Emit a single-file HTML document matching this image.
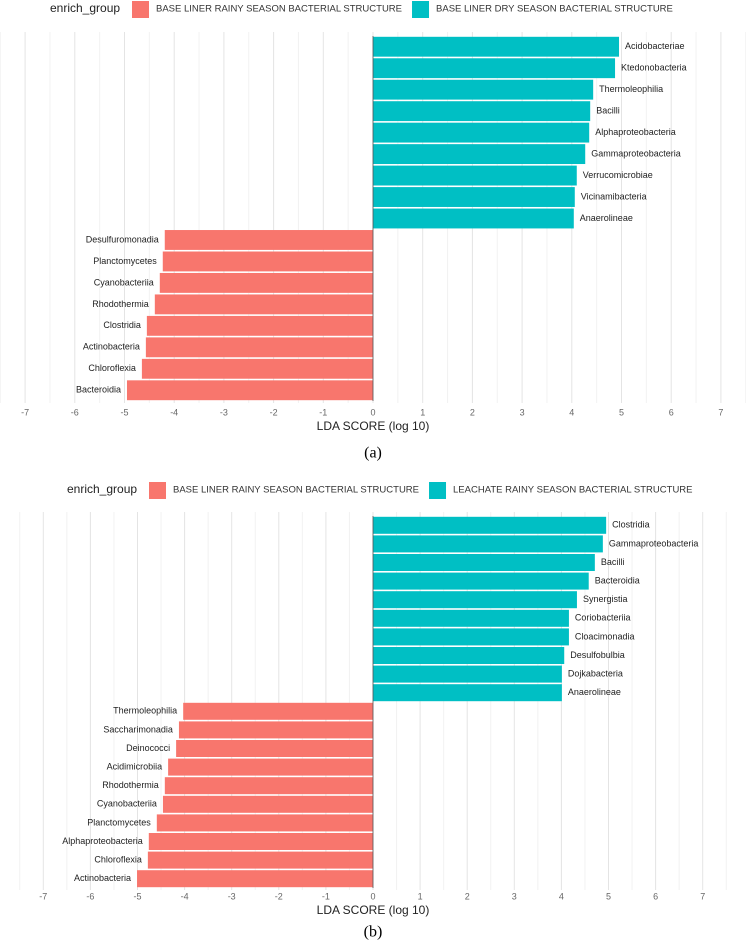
<!DOCTYPE html>
<html><head><meta charset="utf-8"><style>
body{margin:0;background:#fff;}
svg{display:block;font-family:"Liberation Sans",sans-serif;}
</style></head><body>
<svg id="s" width="746" height="945"></svg>
<script>
const catsA=["Acidobacteriae","Ktedonobacteria","Thermoleophilia","Bacilli","Alphaproteobacteria","Gammaproteobacteria","Verrucomicrobiae","Vicinamibacteria","Anaerolineae","Desulfuromonadia","Planctomycetes","Cyanobacteriia","Rhodothermia","Clostridia","Actinobacteria","Chloroflexia","Bacteroidia"];
const valsA=[4.95,4.87,4.43,4.37,4.35,4.27,4.1,4.06,4.04,-4.19,-4.23,-4.29,-4.39,-4.55,-4.57,-4.65,-4.95];
const catsB=["Clostridia","Gammaproteobacteria","Bacilli","Bacteroidia","Synergistia","Coriobacteriia","Cloacimonadia","Desulfobulbia","Dojkabacteria","Anaerolineae","Thermoleophilia","Saccharimonadia","Deinococci","Acidimicrobiia","Rhodothermia","Cyanobacteriia","Planctomycetes","Alphaproteobacteria","Chloroflexia","Actinobacteria"];
const valsB=[4.95,4.88,4.71,4.58,4.33,4.16,4.16,4.06,4.01,4.01,-4.03,-4.12,-4.18,-4.35,-4.42,-4.46,-4.59,-4.76,-4.78,-5.01];
const ticks=[-7,-6,-5,-4,-3,-2,-1,0,1,2,3,4,5,6,7];
const legA=["BASE LINER  RAINY SEASON  BACTERIAL STRUCTURE","BASE LINER DRY SEASON  BACTERIAL  STRUCTURE"];
const legB=["BASE LINER  RAINY SEASON  BACTERIAL STRUCTURE","LEACHATE RAINY SEASON  BACTERIAL STRUCTURE"];
const NS="http://www.w3.org/2000/svg",S=document.getElementById('s');
function el(t,a,p){const e=document.createElementNS(NS,t);for(const k in a)e.setAttribute(k,a[k]);(p||S).appendChild(e);return e;}
function txt(x,y,s,sz,anchor,fill,p,fam){const t=el('text',{x:x,y:y,'font-size':sz,'text-anchor':anchor,fill:fill,'dominant-baseline':'middle'},p);if(fam)t.setAttribute('font-family',fam);t.textContent=s;return t;}
function chart(id,cats,vals,leg,cfg){
  const g=el('g',{});
  
  
  const xs=v=>cfg.x0+v*cfg.unit;
  const step=(cfg.bot-cfg.top)/cats.length;
  const ys=i=>cfg.top+i*step;
  const lg=el('g',{},g);
  
  
  txt(cfg.legX,cfg.legY,'enrich_group',12,'start','#222',lg);
  let lx=cfg.legX+82;
  [['#f8766d',leg[0]],['#00bfc4',leg[1]]].forEach((c,k)=>{
    const r=el('rect',{x:lx,y:cfg.legY-8,width:17,height:17,fill:c[0]},lg);
    
    
    const t=txt(lx+24,cfg.legY,c[1],9.5,'start','#333',lg);
    
    
    lx+=24+t.getComputedTextLength()+10;
  });
  for(let v=-7.5;v<=7.5;v+=0.5){const x=xs(v);if(x<0||x>746)continue;
    el('line',{x1:x,x2:x,y1:cfg.top-4,y2:cfg.bot+2,stroke:Number.isInteger(v)?'#e4e4e4':'#f2f2f2','stroke-width':1},g);}
  cats.forEach((c,i)=>{
    const v=vals[i],y=ys(i);
    const x1=xs(Math.min(0,v)),w=Math.abs(xs(v)-xs(0));
    const r=el('rect',{x:x1,y:y+0.8,width:w,height:step-1.6,fill:v>0?'#00bfc4':'#f8766d'},g);
    
    
    const t=v>0?txt(xs(v)+6,y+step/2,c,9,'start','#222',g):txt(xs(v)-6,y+step/2,c,9,'end','#222',g);
    
    
  });
  el('line',{x1:xs(0),x2:xs(0),y1:cfg.top,y2:cfg.bot,stroke:'#555','stroke-width':0.8},g);
  ticks.forEach(v=>{const t=txt(xs(v),cfg.tickY,String(v),9,'middle','#666',g);
    
    });
  const at=txt(xs(0),cfg.tickY+14,'LDA SCORE (log 10)',12,'middle','#222',g);
  
  
  const cap=txt(xs(0),cfg.capY,cfg.cap,16,'middle','#000',g,'"Liberation Serif",serif');
  
  
}
chart('chart-a',catsA,valsA,legA,{x0:373,unit:49.7,top:36,bot:401,legX:50,legY:9,tickY:413,capY:454,cap:'(a)'});
chart('chart-b',catsB,valsB,legB,{x0:373,unit:47.1,top:516,bot:888,legX:67,legY:490,tickY:897,capY:933,cap:'(b)'});
</script>
</body></html>
